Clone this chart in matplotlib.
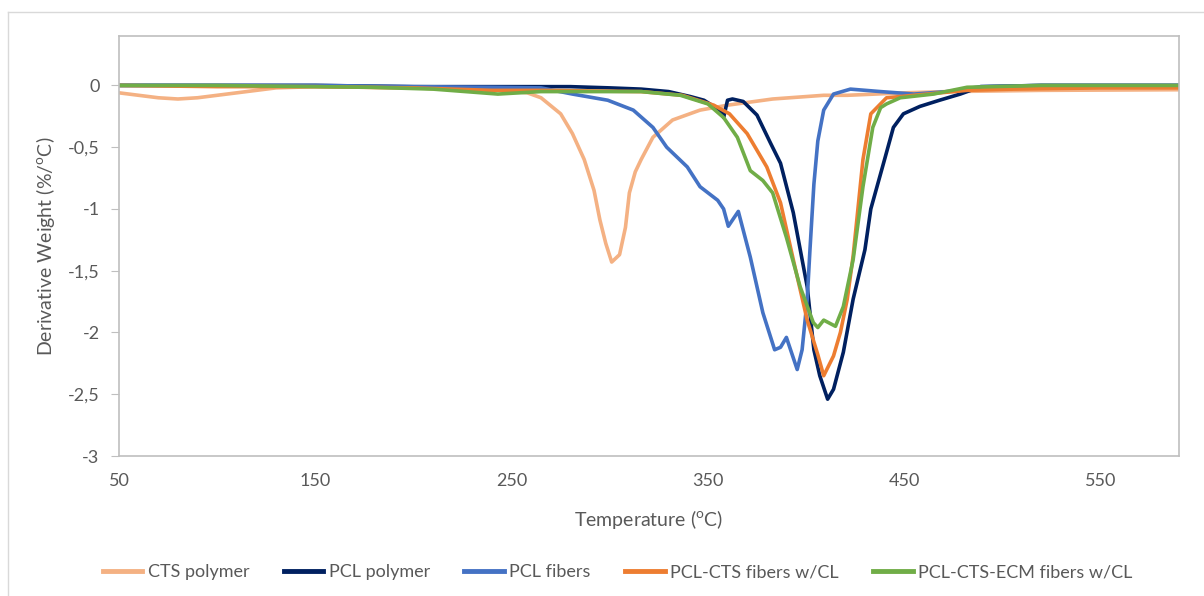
import matplotlib
matplotlib.use("Agg")
import matplotlib.pyplot as plt
from matplotlib.lines import Line2D
import numpy as np

plt.rcParams['font.family'] = ['Lato', 'DejaVu Sans']

# Temperature (C) / derivative weight (%/C)
cts_t = [50, 60, 70, 80, 90, 100, 115, 130, 150, 200, 240, 258, 265, 275, 281, 287, 292, 295,
         298, 301, 303, 305, 308, 310, 313, 316, 322, 332, 346, 360, 383, 409, 421, 450, 472, 520, 590]
cts_v = [-0.06, -0.08, -0.10, -0.11, -0.10, -0.08, -0.05, -0.02, -0.01, -0.02, -0.03, -0.06, -0.10,
         -0.23, -0.39, -0.60, -0.85, -1.09, -1.28, -1.43, -1.40, -1.37, -1.15, -0.87, -0.70, -0.60,
         -0.42, -0.28, -0.20, -0.16, -0.11, -0.08, -0.08, -0.06, -0.05, -0.04, -0.035]

pcl_t = [50, 100, 150, 200, 250, 280, 300, 316, 330, 341, 348, 353, 357, 358, 360, 362.5, 368,
         375, 382, 387, 393.5, 400.6, 404, 407, 411, 414, 419, 424, 430, 433, 440, 444.5, 449.6,
         458, 468, 478.6, 489, 520, 560, 590]
pcl_v = [0.0, 0.0, 0.0, -0.01, -0.01, -0.01, -0.02, -0.03, -0.05, -0.09, -0.12, -0.17, -0.22,
         -0.26, -0.12, -0.11, -0.13, -0.24, -0.47, -0.63, -1.03, -1.63, -2.14, -2.35, -2.54, -2.46,
         -2.16, -1.73, -1.33, -1.00, -0.60, -0.34, -0.23, -0.17, -0.12, -0.07, -0.01, 0.0, 0.0, 0.0]

fib_t = [50, 100, 150, 200, 240, 265, 281, 299, 312, 322, 329, 339.5, 346, 355, 358, 360.4,
         365.5, 371.6, 378, 384, 387, 390, 395.5, 398, 400.6, 402, 404, 406, 409, 414, 422.6, 438,
         455, 472, 489, 520, 590]
fib_v = [0.0, 0.0, 0.0, -0.01, -0.015, -0.02, -0.07, -0.12, -0.20, -0.34, -0.50, -0.66, -0.82,
         -0.93, -1.00, -1.14, -1.02, -1.39, -1.84, -2.14, -2.12, -2.04, -2.30, -2.14, -1.73, -1.33,
         -0.80, -0.45, -0.20, -0.07, -0.03, -0.05, -0.07, -0.05, -0.01, 0.0, 0.0]

cts_fib_t = [50, 100, 150, 200, 240, 265, 316, 337, 353, 361, 370, 380, 387, 393.5, 400.6, 406,
             409, 414, 417.5, 421, 424, 429, 433, 441, 455, 482, 506, 550, 590]
cts_fib_v = [0.0, -0.01, -0.01, -0.02, -0.04, -0.04, -0.05, -0.08, -0.16, -0.23, -0.39, -0.66,
             -0.95, -1.41, -1.90, -2.18, -2.35, -2.19, -2.00, -1.73, -1.38, -0.60, -0.23, -0.10,
             -0.08, -0.04, -0.03, -0.02, -0.02]

ecm_t = [50, 100, 150, 178, 210, 243, 265, 316, 336, 350, 358, 365, 371.6, 378, 383, 390, 397,
         403.7, 406, 409, 415, 419, 424, 429, 434, 438, 441, 448, 465, 482, 520, 590]
ecm_v = [0.0, 0.0, -0.01, -0.015, -0.03, -0.07, -0.05, -0.05, -0.08, -0.15, -0.26, -0.42, -0.69,
         -0.77, -0.87, -1.23, -1.63, -1.92, -1.96, -1.90, -1.95, -1.79, -1.41, -0.82, -0.34, -0.18,
         -0.15, -0.10, -0.07, -0.015, 0.0, 0.0]

series = [
    ("CTS polymer", cts_t, cts_v, "#F4B183"),
    ("PCL polymer", pcl_t, pcl_v, "#002060"),
    ("PCL fibers", fib_t, fib_v, "#4472C4"),
    ("PCL-CTS fibers w/CL", cts_fib_t, cts_fib_v, "#ED7D31"),
    ("PCL-CTS-ECM fibers w/CL", ecm_t, ecm_v, "#70AD47"),
]

fig = plt.figure(figsize=(12.04, 5.96), dpi=100)
ax = fig.add_axes([119 / 1204, 1 - 456 / 596, (1179 - 119) / 1204, (456 - 36) / 596])

for name, t, v, color in series:
    ax.plot(t, v, color=color, linewidth=2.6, label=name, solid_joinstyle='round')

ax.set_xlim(50, 590)
ax.set_ylim(-3, 0.4)
ax.set_xticks([50, 150, 250, 350, 450, 550])
ax.set_yticks([0, -0.5, -1, -1.5, -2, -2.5, -3])
ax.set_yticklabels([("%g" % y).replace(".", ",") for y in [0, -0.5, -1, -1.5, -2, -2.5, -3]])

for s in ax.spines.values():
    s.set_color("#BFBFBF")
    s.set_linewidth(1.2)
ax.tick_params(axis='y', length=6, color="#BFBFBF", labelsize=13, labelcolor="#595959", pad=8)
ax.tick_params(axis='x', length=0, labelsize=13, labelcolor="#595959", pad=12)

ax.set_xlabel(r"Temperature ($^{\mathregular{o}}$C)", fontsize=14, color="#595959", labelpad=14)
ax.set_ylabel(r"Derivative Weight (%/$^{\mathregular{o}}$C)", fontsize=14, color="#595959", labelpad=8)

handles = [Line2D([0], [0], color=c, linewidth=3.5) for _, _, _, c in series]
fig.legend(handles, [n for n, _, _, _ in series], loc='center', bbox_to_anchor=(0.513, 0.04),
           ncol=5, frameon=False, fontsize=13, labelcolor="#595959", handlelength=2.2,
           handletextpad=0.3, columnspacing=1.9)

# chart area border
fig.add_artist(Line2D([8 / 1204, 8 / 1204], [0, 1 - 12 / 596], transform=fig.transFigure,
                      color="#D9D9D9", linewidth=1))
fig.add_artist(Line2D([8 / 1204, 1], [1 - 12 / 596, 1 - 12 / 596], transform=fig.transFigure,
                      color="#D9D9D9", linewidth=1))

fig.savefig("out.png", dpi=100)
